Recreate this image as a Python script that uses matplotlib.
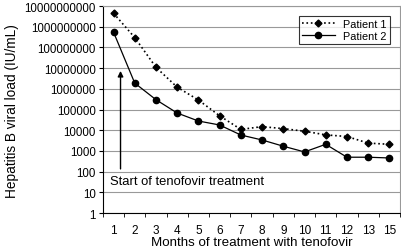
import matplotlib.pyplot as plt
import numpy as np

months = ["1", "2", "3", "4", "5", "6", "7", "8", "9", "10", "11", "12", "13", "15"]
patient1 = [4.5e9, 3e8, 1.1e7, 1.2e6, 2.9e5, 5e4, 1.1e4, 1.5e4, 1.2e4, 9e3, 6e3, 5e3, 2.4e3, 2.1e3]
patient2 = [5.5e8, 1.9e6, 3e5, 6.8e4, 2.8e4, 1.8e4, 5.9e3, 3.4e3, 1.7e3, 900, 2.1e3, 500, 500, 460]
ytick_vals = [10 ** k for k in range(11)]

plt.rcParams['font.family'] = ['Liberation Sans', 'DejaVu Sans']

fig = plt.figure(figsize=(4.02, 2.51), dpi=100)
ax = fig.add_axes([0.256, 0.147, 0.739, 0.825])

x = np.arange(len(months))
ax.plot(x, patient1, color='black', linestyle=':', linewidth=1.2, marker='D', markersize=3.5, label='Patient 1')
ax.plot(x, patient2, color='black', linestyle='-', linewidth=0.9, marker='o', markersize=4.5, label='Patient 2')

ax.set_yscale('log')
ax.set_ylim(1, 1e10)
ax.set_yticks(ytick_vals)
ax.set_yticklabels([str(v) for v in ytick_vals], fontsize=8.3)
ax.minorticks_off()
ax.set_xlim(-0.5, len(months) - 0.5)
ax.set_xticks(x)
ax.set_xticklabels(months, fontsize=8.5)
ax.set_xticks(np.arange(-0.5, len(months)), minor=True)
ax.tick_params(axis='x', which='major', length=0, pad=8)
ax.tick_params(axis='x', which='minor', length=3, direction='out')
ax.tick_params(axis='y', length=3, direction='out', pad=2)

ax.grid(axis='y', color='#999999', linewidth=0.8)
ax.set_axisbelow(True)
for s in ['top', 'right']:
    ax.spines[s].set_color('#999999')
for s in ['left', 'bottom']:
    ax.spines[s].set_color('black')

ax.annotate('', xy=(0.33, 1e7), xytext=(0.33, 100),
            arrowprops=dict(arrowstyle='-|>', color='black', lw=1.0, mutation_scale=8))
ax.text(-0.15, 35, 'Start of tenofovir treatment', fontsize=9.4, va='center', ha='left',
        bbox=dict(facecolor='white', edgecolor='none', pad=1))

ax.set_ylabel('Hepatitis B viral load (IU/mL)', fontsize=9.8, labelpad=4)
ax.set_xlabel('Months of treatment with tenofovir', fontsize=9.6, labelpad=0)

leg = ax.legend(loc='upper right', fontsize=7.8, frameon=True, fancybox=False,
                edgecolor='black', borderpad=0.3, labelspacing=0.2, handlelength=3,
                bbox_to_anchor=(0.985, 0.98))
leg.get_frame().set_linewidth(0.8)

fig.savefig('out.png', dpi=100)
